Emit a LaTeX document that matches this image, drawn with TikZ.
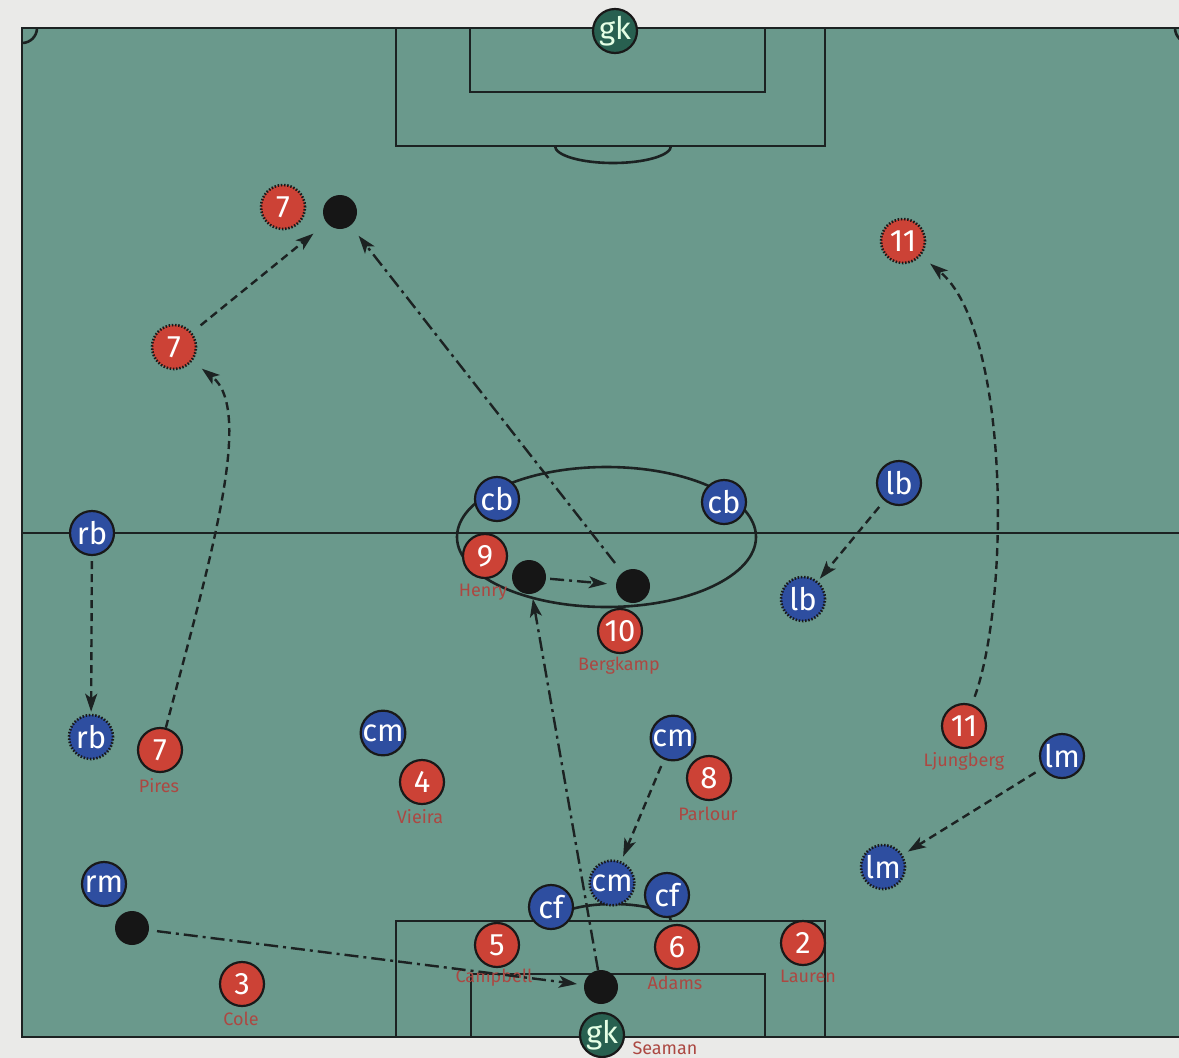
\documentclass[tikz,border=0pt]{standalone}
\usepackage{fontspec}
\setmainfont{Fira Sans}
\usetikzlibrary{arrows.meta}
\definecolor{bgc}{RGB}{234,234,232}
\definecolor{pitchc}{RGB}{106,153,140}
\definecolor{linec}{RGB}{28,34,34}
\definecolor{redc}{RGB}{204,66,54}
\definecolor{bluec}{RGB}{46,78,160}
\definecolor{gkc}{RGB}{40,96,80}
\definecolor{namec}{RGB}{172,72,66}
\definecolor{ballc}{RGB}{22,22,22}
\begin{document}
\begin{tikzpicture}[x=1pt,y=-1pt,
  pline/.style={draw=linec,line width=2.6pt},
  plr/.style={circle,draw=black!90,line width=2.2pt,minimum size=44pt,inner sep=0pt,text=white,font=\fontsize{31}{32}\selectfont},
  ars/.style={plr,fill=redc},
  opp/.style={plr,fill=bluec},
  keeper/.style={plr,fill=gkc,text=white!90!green},
  ghost/.style={dash pattern=on 1.5pt off 1.7pt,line width=2.6pt},
  ballnode/.style={circle,fill=ballc,minimum size=34pt,inner sep=0pt},
  plname/.style={text=namec,font=\fontsize{18}{19}\selectfont,inner sep=0pt},
  tip/.style={-{Stealth[length=18pt,width=12pt,inset=4.5pt]}},
  runarrow/.style={draw=linec,line width=2.4pt,dash pattern=on 8pt off 5pt,tip},
  passarrow/.style={draw=linec,line width=2.4pt,dash pattern=on 14pt off 5pt on 3pt off 5pt,tip}
]
\fill[bgc] (0,0) rectangle (1179,1058);
\useasboundingbox (0,0) rectangle (1179,1058);
\begin{scope}
\clip (0,0) rectangle (1179,1058);
% pitch
\fill[pitchc] (22,28) rectangle (1190,1037);
\draw[pline] (22,28) rectangle (1190,1037);
\draw[pline] (22,533) -- (1190,533);
\draw[pline] (606.5,537) ellipse [x radius=149.5, y radius=70];
% top boxes
\draw[pline] (396,28) -- (396,146) -- (825,146) -- (825,28);
\draw[pline] (470,28) -- (470,92) -- (765,92) -- (765,28);
\draw[pline] (555,146) arc[start angle=180,end angle=0,x radius=58,y radius=17];
% bottom boxes
\draw[pline] (396,1037) -- (396,921) -- (825,921) -- (825,1037);
\draw[pline] (471,1037) -- (471,974) -- (765,974) -- (765,1037);
\draw[pline] (555,921) arc[start angle=180,end angle=360,x radius=58,y radius=17];
% corners
\draw[pline] (37,28) arc[start angle=0,end angle=90,radius=15];
\draw[pline] (1175,28) arc[start angle=180,end angle=90,radius=15];
\end{scope}

% players and balls
\node[keeper] (gkt) at (615,31) {gk};
\node[ars,ghost] (g7a) at (283,207) {7};
\node[ars,ghost] (g7b) at (174,347) {7};
\node[ballnode] (btop) at (340,212) {};
\node[ars,ghost] (g11) at (903,241) {11};
\node[opp] (cbl) at (497,499) {cb};
\node[opp] (cbr) at (724,502) {cb};
\node[opp] (lb) at (899,483) {lb};
\node[opp,ghost] (glb) at (803,599) {lb};
\node[opp] (rb) at (92,533) {rb};
\node[opp,ghost] (grb) at (91,737) {rb};
\node[ars] (p9) at (485,556) {9};
\node[plname] (n9) at (483,592) {Henry};
\node[ballnode] (b1) at (529,577) {};
\node[ballnode] (b2) at (633,586) {};
\node[ars] (p10) at (620,631) {10};
\node[plname] (n10) at (619,666) {Bergkamp};
\node[ars] (p7) at (160,750) {7};
\node[plname] (n7) at (159,786) {Pires};
\node[opp] (cml) at (383,733) {cm};
\node[ars] (p4) at (422,782) {4};
\node[plname] (n4) at (420,817) {Vieira};
\node[opp] (cmr) at (673,738) {cm};
\node[ars] (p8) at (709,778) {8};
\node[plname] (n8) at (708,814) {Parlour};
\node[ars] (p11) at (964,726) {11};
\node[plname] (n11) at (964,761) {Ljungberg};
\node[opp] (lm) at (1062,756) {lm};
\node[opp,ghost] (glm) at (883,867) {lm};
\node[opp] (rm) at (104,884) {rm};
\node[ballnode] (b3) at (132,928) {};
\node[opp,ghost] (gcm) at (612,883) {cm};
\node[opp] (cf1) at (551,907) {cf};
\node[opp] (cf2) at (667,895) {cf};
\node[ars] (p5) at (497,945) {5};
\node[plname] (n5) at (494,978) {Campbell};
\node[ars] (p6) at (677,947) {6};
\node[plname] (n6) at (675,983) {Adams};
\node[ars] (p2) at (803,943) {2};
\node[plname] (n2) at (808,976) {Lauren};
\node[ars] (p3) at (242,984) {3};
\node[plname] (n3) at (241,1019) {Cole};
\node[ballnode] (b4) at (601,987) {};
\node[keeper] (gkb) at (602,1035) {gk};
\node[plname] (ngk) at (665,1048) {Seaman};

% movements
\draw[runarrow,shorten <=11pt,shorten >=17pt] (g7b) -- (btop);
\draw[runarrow,shorten >=12pt] (p7) .. controls (210,560) and (255,410) .. (g7b);
\draw[passarrow,shorten <=12pt,shorten >=13pt] (b2) -- (btop);
\draw[passarrow,shorten <=4pt,shorten >=9pt] (b1) -- (b2);
\draw[passarrow,shorten >=5pt] (b4) -- (b1);
\draw[passarrow,shorten <=8pt,shorten >=7pt] (b3) -- (b4);
\draw[runarrow,shorten <=5pt,shorten >=2pt] (rb) -- (grb);
\draw[runarrow,shorten <=8pt,shorten >=3pt] (lb) -- (glb);
\draw[runarrow,shorten <=8pt,shorten >=12pt] (p11) .. controls (1010,600) and (1010,330) .. (g11);
\draw[runarrow,shorten <=8pt,shorten >=6pt] (lm) -- (glm);
\draw[runarrow,shorten <=7pt,shorten >=5pt] (cmr) -- (gcm);
\end{tikzpicture}
\end{document}
